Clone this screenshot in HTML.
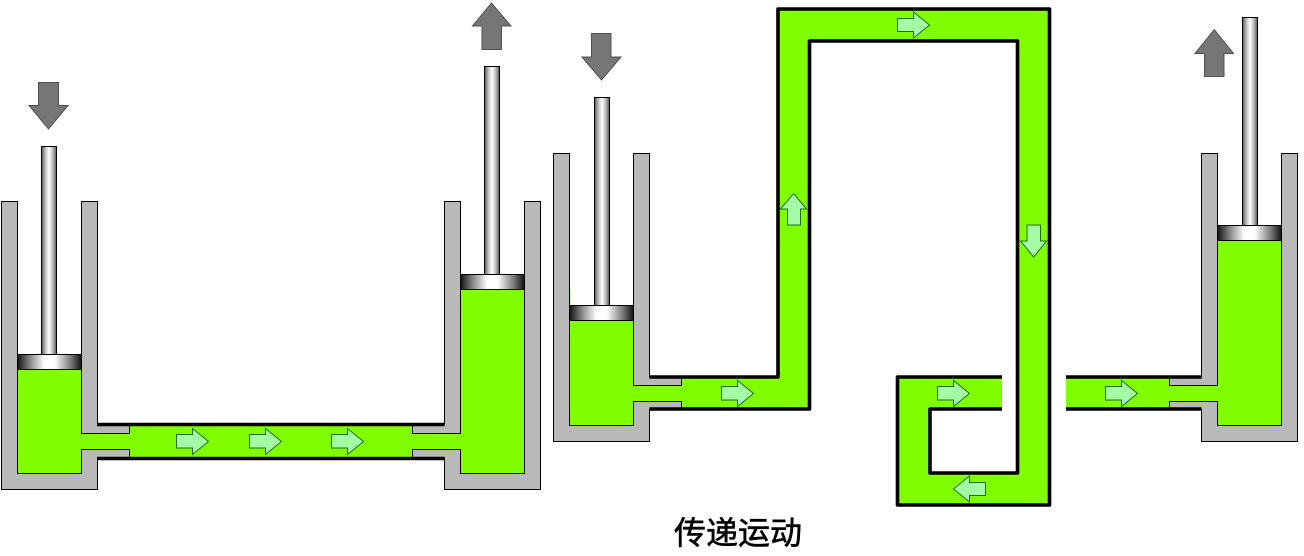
<!DOCTYPE html>
<html>
<head>
<meta charset="utf-8">
<style>
html,body{margin:0;padding:0;background:#fff;width:1304px;height:556px;overflow:hidden}
svg{display:block}
.g{fill:#b9b9b9;stroke:#000;stroke-width:1}
.f{fill:#80ff00;stroke:none}
.p{fill:none;stroke:#000;stroke-width:3.6;stroke-linejoin:round}
.a{fill:#a4fca4;stroke:#1e6e1e;stroke-width:1}
.d{fill:#767676;stroke:#505050;stroke-width:1}
.r{fill:url(#rod);stroke:#000;stroke-width:1}
.s{fill:url(#pis);stroke:#000;stroke-width:1}
text{font-family:"Liberation Sans","Noto Sans CJK SC",sans-serif}
</style>
</head>
<body>
<svg width="1304" height="556" viewBox="0 0 1304 556" xmlns="http://www.w3.org/2000/svg">
<defs>
<linearGradient id="rod" x1="0" x2="1" y1="0" y2="0">
<stop offset="0" stop-color="#555"/><stop offset=".25" stop-color="#bbb"/><stop offset=".5" stop-color="#fff"/><stop offset=".75" stop-color="#bbb"/><stop offset="1" stop-color="#555"/>
</linearGradient>
<linearGradient id="pis" x1="0" x2="1" y1="0" y2="0">
<stop offset="0" stop-color="#111"/><stop offset=".18" stop-color="#808080"/><stop offset=".42" stop-color="#fff"/><stop offset=".58" stop-color="#fff"/><stop offset=".82" stop-color="#808080"/><stop offset="1" stop-color="#111"/>
</linearGradient>
</defs>

<!-- Left system: fluid -->
<rect class="f" x="17.5" y="369" width="64" height="104"/>
<rect class="f" x="460.5" y="289" width="64" height="184"/>
<rect class="f" x="81" y="433.5" width="380" height="16"/>
<rect class="f" x="129" y="424" width="284" height="34"/>
<!-- Left cylinder -->
<path class="g" d="M1.5 201.5H17.5V473.5H81.5V449.5H129.5V458H97.5V489.5H1.5Z"/>
<path class="g" d="M81.5 201.5H97.5V424H129.5V433.5H81.5Z"/>
<!-- Right cylinder -->
<path class="g" d="M540.5 201.5H524.5V473.5H460.5V449.5H412.5V458H444.5V489.5H540.5Z"/>
<path class="g" d="M460.5 201.5H444.5V424H412.5V433.5H460.5Z"/>
<path class="p" d="M97 424.5H444.5M97 458.5H444.5"/>
<rect class="r" x="41.5" y="146.5" width="15" height="208"/>
<rect class="s" x="17.5" y="354.5" width="64" height="15"/>
<rect class="r" x="484.5" y="66.5" width="15" height="208"/>
<rect class="s" x="460.5" y="274.5" width="64" height="15"/>

<!-- Right system: fluid -->
<rect class="f" x="569.5" y="320" width="64" height="105"/>
<rect class="f" x="633" y="385.5" width="50" height="16"/>
<path class="f" d="M681 377H778V9H1049.5V505H897.5V377H1002V409H930V473H1017.5V41H809.5V409H681Z"/>
<rect class="f" x="1066" y="377" width="104" height="32"/>
<rect class="f" x="1169" y="385.5" width="49" height="16"/>
<rect class="f" x="1217.5" y="240" width="64" height="185"/>
<rect x="569.5" y="290" width="1" height="16" fill="#b8f070"/>
<!-- Cylinder 3 -->
<path class="g" d="M553.5 153.5H569.5V425.5H633.5V401.5H681.5V409.5H649.5V441.5H553.5Z"/>
<path class="g" d="M633.5 153.5H649.5V377H681.5V385.5H633.5Z"/>
<!-- Cylinder 4 -->
<path class="g" d="M1297.5 153.5H1281.5V425.5H1217.5V401.5H1169.5V409.5H1201.5V441.5H1297.5Z"/>
<path class="g" d="M1217.5 153.5H1201.5V377H1169.5V385.5H1217.5Z"/>
<!-- Pipe outlines -->
<path class="p" d="M649.5 377H778V9H1049.5V505H897.5V377H1002"/>
<path class="p" d="M649.5 409H809.5V41H1017.5V473H930V409H1002"/>
<path class="p" d="M1066 377H1201.5M1066 409H1201.5"/>
<rect class="r" x="594.5" y="97.5" width="15" height="208"/>
<rect class="s" x="569.5" y="305.5" width="64" height="15"/>
<rect class="r" x="1242.5" y="17.5" width="15" height="208"/>
<rect class="s" x="1217.5" y="225.5" width="64" height="15"/>

<!-- Green arrows: right-pointing -->
<path class="a" d="M176.5 434.5H192.5V428.5L208.5 441.5L192.5 454.5V448H176.5Z"/>
<path class="a" d="M249.5 434.5H265.5V428.5L281.5 441.5L265.5 454.5V448H249.5Z"/>
<path class="a" d="M331.5 434.5H347.5V428.5L363.5 441.5L347.5 454.5V448H331.5Z"/>
<path class="a" d="M721.5 386.5H737.5V380.5L753.5 393.5L737.5 406.5V400H721.5Z"/>
<path class="a" d="M897.5 18.5H913.5V12L929.5 25L913.5 38V31.5H897.5Z"/>
<path class="a" d="M937.5 386.5H953.5V380.5L969.5 393.5L953.5 406.5V400H937.5Z"/>
<path class="a" d="M1105.5 386.5H1121.5V380.5L1137.5 393.5L1121.5 406.5V400H1105.5Z"/>
<!-- Green arrows: other directions -->
<path class="a" d="M985.5 482.5H969.5V476L953.5 489L969.5 502V495.5H985.5Z"/>
<path class="a" d="M787.5 225V209H780.5L793.7 193.5L806.5 209H800.5V225Z"/>
<path class="a" d="M1027 225V241H1020.5L1033.7 257L1046.5 241H1040.5V225Z"/>

<!-- Grey arrows -->
<path class="d" d="M38.5 82.5H58.5V105.5H68L48.5 129L29 105.5H38.5Z"/>
<path class="d" d="M482 49.5V26H472.5L491.5 3L511 26H501.5V49.5Z"/>
<path class="d" d="M591.5 33.5H611V57H621L601.5 80L582 57H591.5Z"/>
<path class="d" d="M1204.5 76.5V53.5H1195L1214.3 29.5L1233.5 53.5H1224V76.5Z"/>

<text x="738" y="544" font-size="32" text-anchor="middle" fill="#000" stroke="#000" stroke-width=".6">传递运动</text>
</svg>
</body>
</html>
